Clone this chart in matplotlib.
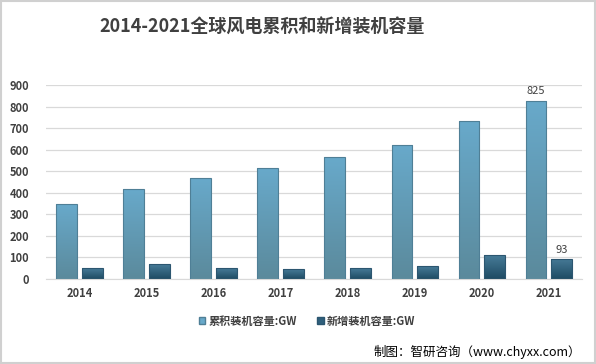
import numpy as np
import matplotlib.pyplot as plt
from matplotlib.colors import LinearSegmentedColormap
from matplotlib.patches import Rectangle

plt.rcParams['font.family'] = ['Noto Sans CJK SC', 'DejaVu Sans']

years = ["2014", "2015", "2016", "2017", "2018", "2019", "2020", "2021"]
cumulative = [347, 417, 467, 514, 564, 621, 732, 825]
new_added = [50, 68, 51, 46, 51, 60, 111, 93]
series_names = ["累积装机容量:GW", "新增装机容量:GW"]

fig = plt.figure(figsize=(5.96, 3.64), dpi=100)
ax = fig.add_axes([0.077, 0.2335, 0.9, 0.533])

x = np.arange(len(years))
w = 0.31
off = 0.19

cmap_cum = LinearSegmentedColormap.from_list("cum", ["#5b8a9c", "#68a9ca"])
cmap_new = LinearSegmentedColormap.from_list("new", ["#1e4b63", "#477b98"])
grad = np.linspace(0, 1, 100).reshape(-1, 1)


def gradient_bars(xs, vals, cmap, edge):
    bars = ax.bar(xs, vals, w, color="none", edgecolor=edge, linewidth=0.8, zorder=3)
    for b in bars:
        x0, y0 = b.get_x(), b.get_y()
        im = ax.imshow(grad, cmap=cmap, origin="lower", aspect="auto",
                       extent=[x0, x0 + b.get_width(), y0, y0 + b.get_height()], zorder=2)
        im.set_clip_path(Rectangle((x0, y0), b.get_width(), b.get_height(),
                                   transform=ax.transData))
    return bars


b1 = gradient_bars(x - off, cumulative, cmap_cum, "#4f7f96")
b2 = gradient_bars(x + off, new_added, cmap_new, "#2c5670")

ax.set_xlim(-0.5, len(years) - 0.5)
ax.set_ylim(0, 900)
ax.set_yticks(range(0, 901, 100))
ax.set_xticks(x)
ax.set_xticklabels(years)
ax.yaxis.grid(True, color="#d9d9d9", linewidth=0.9, zorder=0)
ax.set_axisbelow(True)
for s in ["top", "right", "left"]:
    ax.spines[s].set_visible(False)
ax.spines["bottom"].set_color("#d9d9d9")
ax.tick_params(length=0, labelsize=8, colors="#404040", pad=6)
for lab in ax.get_xticklabels() + ax.get_yticklabels():
    lab.set_fontweight("bold")
ax.tick_params(axis="y", pad=12)

ax.text(x[-1] - off, cumulative[-1] + 25, str(cumulative[-1]), ha="center", va="bottom",
        fontsize=8, color="#404040")
ax.text(x[-1] + off, new_added[-1] + 18, str(new_added[-1]), ha="center", va="bottom",
        fontsize=8, color="#404040")

fig.text(0.44, 0.926, "2014-2021全球风电累积和新增装机容量", ha="center", va="center",
         fontsize=13, fontweight="bold", color="#404040")

h1 = Rectangle((0, 0), 1, 1, facecolor="#68a9ca", edgecolor="#4f7f96")
h2 = Rectangle((0, 0), 1, 1, facecolor="#2f5f7c", edgecolor="#2c5670")
leg = fig.legend([h1, h2], series_names, loc="center", bbox_to_anchor=(0.515, 0.118),
                 ncol=2, frameon=False, fontsize=8, handlelength=0.6, handleheight=0.6,
                 handletextpad=0.3, columnspacing=1.8)
for t in leg.get_texts():
    t.set_color("#404040")
    t.set_fontweight("bold")

fig.text(0.975, 0.033, "制图：智研咨询（www.chyxx.com）", ha="right", va="center",
         fontsize=9, color="#000000")

fig.patches.append(Rectangle((0.001, 0.002), 0.997, 0.995, transform=fig.transFigure,
                             fill=False, edgecolor="#d0d0d0", linewidth=1.5))

fig.savefig("out.png", dpi=100)
